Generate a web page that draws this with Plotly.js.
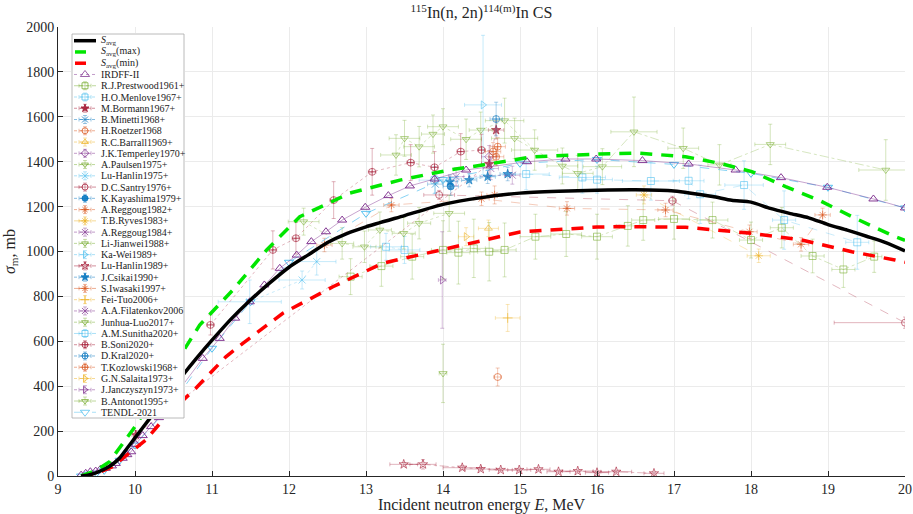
<!DOCTYPE html>
<html><head><meta charset="utf-8">
<script src="https://cdn.plot.ly/plotly-3.0.1.min.js"></script>
<style>html,body{margin:0;padding:0;background:#fff}#chart{width:913px;height:514px}</style>
</head><body><div id="chart"></div>
<script>
// ================= DATA =================
const savgE = [9.3,9.4,9.5,9.6,9.7,9.8,9.9,10.0,10.2,10.4,10.6,10.8,11.0,11.25,11.5,11.75,12.0,12.25,12.5,12.75,13.0,13.5,14.0,14.5,15.0,15.5,16.0,16.5,17.0,17.5,17.75,18.0,18.25,18.5,18.75,19.0,19.25,19.5,19.75,20.0];
const savgS = [0,5,15,30,50,80,125,170,260,350,440,525,605,700,784,860,930,985,1040,1080,1110,1160,1210,1240,1260,1268,1273,1275,1270,1245,1228,1220,1192,1170,1150,1120,1095,1068,1040,1003];
const smaxE = [9.3,9.5,9.67,9.84,10.0,10.3,10.66,10.84,11.27,11.71,12.14,12.79,13.44,14.08,14.51,15.16,16.03,16.55,17.15,17.59,18.01,18.45,18.88,19.31,19.87,20.0];
const smaxS = [0,25,64,146,220,380,576,672,828,1007,1155,1260,1318,1363,1385,1422,1434,1438,1422,1393,1356,1289,1229,1155,1066,1050];
const sminE = [9.3,9.5,9.7,9.9,10.14,10.4,10.79,11.18,11.4,11.92,12.57,13.22,14.08,15.0,16.0,16.29,17.15,18.01,18.66,19.31,19.87,20.0];
const sminS = [0,12,40,95,160,265,391,531,591,725,843,948,1015,1087,1109,1111,1108,1081,1051,999,962,952];

const irdffE = [9.3,9.36,9.42,9.49,9.55,9.62,9.7,9.75,9.84,9.9,9.95,10.01,10.1,10.21,10.31,10.5,10.88,11.1,11.3,11.49,11.68,11.88,12.1,12.29,12.48,12.69,12.99,13.29,13.57,13.89,14.3,15.09,15.59,15.99,16.59,17.19,17.8,18.39,18.99,19.59,20.0];
const irdffS = [4,12,19,22,30,34,45,56,79,95,108,141,180,220,260,350,524,613,703,776,851,925,984,1044,1088,1140,1197,1249,1292,1323,1363,1400,1412,1412,1405,1390,1363,1329,1286,1234,1194];
const tendlE = [9.3,9.4,9.5,9.6,9.8,10.0,10.5,11.0,11.5,12.0,13.0,14.0,15.0,16.0,17.0,18.0,19.0,20.0];
const tendlS = [0,8,13,25,70,138,330,569,776,952,1170,1320,1393,1410,1388,1348,1286,1194];

const prestwoodE = [12.8,13.2,13.6,14.0,14.2,14.4,14.6,14.8,15.2,15.6,16.0,16.4,16.6,17.0,17.5,18.0,18.4,18.8,19.2,19.6];
const prestwoodS = [888,935,977,1007,995,1014,999,1007,1066,1078,1066,1114,1140,1145,1140,1051,1106,980,920,977];
const prestwoodDE = [0.15,0.15,0.15,0.15,0.15,0.15,0.15,0.15,0.2,0.2,0.2,0.15,0.15,0.2,0.2,0.15,0.15,0.15,0.15,0.1];
const prestwoodDS = [80,90,100,130,140,130,130,120,100,100,100,90,90,90,80,80,90,75,80,70];
const menloveE = [13.26,13.5];
const menloveS = [1021,1007];
const menloveDE = [0.2,0.2];
const menloveDS = [60,60];
const bormannE = [10.01,14.6,14.69];
const bormannS = [183,1390,1541];
const bormannDE = [0.05,0.1,0.1];
const bormannDS = [20,60,40];
const minettiE = [13.9];
const minettiS = [1300];
const minettiDE = [0.1];
const minettiDS = [40];
const roetzerE = [14.71];
const roetzerS = [441];
const roetzerDE = [0.05];
const roetzerDS = [40];
const barrallE = [14.59];
const barrallS = [1103];
const barrallDE = [0.13];
const barrallDS = [37];
const temperleyE = [14.6];
const temperleyS = [1422];
const temperleyDE = [0.1];
const temperleyDS = [50];
const paulsenE = [14.0];
const paulsenS = [457];
const paulsenDE = [0.05];
const paulsenDS = [130];
const luhanlin75E = [11.49,12.17,12.36];
const luhanlin75S = [776,873,955];
const luhanlin75DE = [0.41,0.3,0.25];
const luhanlin75DS = [97,40,60];
const santryE = [13.95,16.98,20.0];
const santryS = [1252,1226,683];
const santryDE = [0.2,0.05,0.92];
const santryDS = [20,20,25];
const kayashimaE = [14.1];
const kayashimaS = [1290];
const kayashimaDE = [0.1];
const kayashimaDS = [40];
const reggoug82E = [14.67];
const reggoug82S = [1252];
const reggoug82DE = [0.1];
const reggoug82DS = [40];
const ryvesE = [16.61,18.1];
const ryvesS = [1252,981];
const ryvesDE = [0.1,0.15];
const ryvesDS = [40,30];
const reggoug84E = [14.62];
const reggoug84S = [1370];
const reggoug84DE = [0.1];
const reggoug84DS = [50];
const lijianweiE = [13.39,13.5,13.69,13.87,14.0,14.3,14.49,14.8,15.19];
const lijianweiS = [1430,1504,1467,1523,1556,1500,1541,1583,1452];
const lijianweiDE = [0.2,0.2,0.2,0.15,0.2,0.2,0.15,0.25,0.3];
const lijianweiDS = [90,80,90,85,80,90,80,100,90];
const kaweiE = [14.52];
const kaweiS = [1653];
const kaweiDE = [0.24];
const kaweiDS = [310];
const luhanlin89E = [13.49,13.74,14.25,14.49,14.75,14.99,15.24,15.5,15.75,16.0,16.25,16.74];
const luhanlin89S = [52,52,37,31,27,27,30,19,22,15,19,12];
const luhanlin89DE = [0.18,0.17,0.25,0.2,0.15,0.15,0.15,0.15,0.2,0.15,0.2,0.13];
const luhanlin89DS = [8,21,8,6,5,5,6,6,5,5,5,5];
const csikaiE = [14.09,14.34,14.58,14.84];
const csikaiS = [1311,1318,1333,1345];
const csikaiDE = [0.1,0.1,0.1,0.1];
const csikaiDS = [30,30,30,30];
const iwasakiE = [12.46,13.33,14.5,15.61,16.89,17.98,18.65,18.93];
const iwasakiS = [1029,1207,1235,1192,1185,1088,1032,1163];
const iwasakiDE = [0.1,0.1,0.1,0.1,0.1,0.1,0.1,0.1];
const iwasakiDS = [30,30,30,30,30,30,30,30];
const feituoE = [14.84];
const feituoS = [704];
const feituoDE = [0.16];
const feituoDS = [60];
const filatenkovE = [14.17,14.9];
const filatenkovS = [1333,1340];
const filatenkovDE = [0.1,0.1];
const filatenkovDS = [40,40];
const junhuaE = [12.19,12.69,12.98,13.18,13.49,13.69,14.08];
const junhuaS = [1133,1036,1021,1096,1081,1126,1170];
const junhuaDE = [0.2,0.15,0.15,0.15,0.15,0.15,0.2];
const junhuaDS = [60,70,70,80,70,70,80];
const sunithaE = [13.89,15.08,15.81,16.0,16.7,17.19,17.34,17.91,18.43,19.38];
const sunithaS = [1318,1345,1330,1320,1314,1315,1255,1296,1140,1041];
const sunithaDE = [0.2,0.3,0.3,0.2,0.37,0.2,0.2,0.25,0.15,0.15];
const sunithaDS = [60,70,70,60,85,80,130,108,130,120];
const soniE = [10.98,11.79,12.09,12.58,13.08,13.58,13.89,14.23,14.5];
const soniS = [673,1007,1059,1229,1355,1396,1375,1445,1452];
const soniDE = [0.05,0.05,0.05,0.05,0.05,0.05,0.05,0.05,0.05];
const soniDS = [45,85,70,82,104,80,70,80,70];
const kralE = [14.69];
const kralS = [1590];
const kralDE = [0.08];
const kralDS = [75];
const kozlowskiE = [14.65,14.69,14.71];
const kozlowskiS = [1445,1422,1467];
const kozlowskiDE = [0.1,0.1,0.1];
const kozlowskiDS = [40,40,40];
const salaitaE = [14.3];
const salaitaS = [1066];
const salaitaDE = [0.1];
const salaitaDS = [40];
const janczyszynE = [13.99];
const janczyszynS = [873];
const janczyszynDE = [0.05];
const janczyszynDS = [215];
const antonotE = [14.93,15.55,15.75,16.07,16.48,17.12,17.59,18.25,19.75];
const antonotS = [1504,1381,1348,1378,1533,1460,1386,1477,1363];
const antonotDE = [0.3,0.2,0.2,0.25,0.3,0.2,0.15,0.2,0.35];
const antonotDS = [90,80,80,80,155,90,90,90,135];

// ================= STYLE =================
const G=[119,172,48], LB=[77,190,238], DR=[162,20,47], B=[0,114,189], O=[217,83,25], Y=[237,177,32], P=[126,47,142];
const rgba=(c,a)=>`rgba(${c[0]},${c[1]},${c[2]},${a})`;
const FONT = 'Liberation Serif, Times New Roman, serif';

const series = [
 {name:'R.J.Prestwood1961+', E:prestwoodE,S:prestwoodS,dE:prestwoodDE,dS:prestwoodDS,c:G,sym:'square-open',dash:'dashdot'},
 {name:'H.O.Menlove1967+', E:menloveE,S:menloveS,dE:menloveDE,dS:menloveDS,c:LB,sym:'square-open',dash:'dot'},
 {name:'M.Bormann1967+', E:bormannE,S:bormannS,dE:bormannDE,dS:bormannDS,c:DR,sym:'star',dash:'dot'},
 {name:'B.Minetti1968+', E:minettiE,S:minettiS,dE:minettiDE,dS:minettiDS,c:B,sym:'x-thin-open',dash:'dot'},
 {name:'H.Roetzer1968', E:roetzerE,S:roetzerS,dE:roetzerDE,dS:roetzerDS,c:O,sym:'circle-open',dash:'dot'},
 {name:'R.C.Barrall1969+', E:barrallE,S:barrallS,dE:barrallDE,dS:barrallDS,c:Y,sym:'triangle-up-open',dash:'dot'},
 {name:'J.K.Temperley1970+', E:temperleyE,S:temperleyS,dE:temperleyDE,dS:temperleyDS,c:P,sym:'diamond-open',dash:'dot'},
 {name:'A.Paulsen1975+', E:paulsenE,S:paulsenS,dE:paulsenDE,dS:paulsenDS,c:G,sym:'triangle-down-open',dash:'dot'},
 {name:'Lu-Hanlin1975+', E:luhanlin75E,S:luhanlin75S,dE:luhanlin75DE,dS:luhanlin75DS,c:LB,sym:'x-thin-open',dash:'dot'},
 {name:'D.C.Santry1976+', E:santryE,S:santryS,dE:santryDE,dS:santryDS,c:DR,sym:'circle-open',dash:'dash'},
 {name:'K.Kayashima1979+', E:kayashimaE,S:kayashimaS,dE:kayashimaDE,dS:kayashimaDS,c:B,sym:'circle',dash:'dot'},
 {name:'A.Reggoug1982+', E:reggoug82E,S:reggoug82S,dE:reggoug82DE,dS:reggoug82DS,c:O,sym:'asterisk-open',dash:'dot'},
 {name:'T.B.Ryves1983+', E:ryvesE,S:ryvesS,dE:ryvesDE,dS:ryvesDS,c:Y,sym:'asterisk-open',dash:'dash'},
 {name:'A.Reggoug1984+', E:reggoug84E,S:reggoug84S,dE:reggoug84DE,dS:reggoug84DS,c:P,sym:'x-thin-open',dash:'dot'},
 {name:'Li-Jianwei1988+', E:lijianweiE,S:lijianweiS,dE:lijianweiDE,dS:lijianweiDS,c:G,sym:'triangle-down-open',dash:'dot'},
 {name:'Ka-Wei1989+', E:kaweiE,S:kaweiS,dE:kaweiDE,dS:kaweiDS,c:LB,sym:'triangle-right-open',dash:'dot'},
 {name:'Lu-Hanlin1989+', E:luhanlin89E,S:luhanlin89S,dE:luhanlin89DE,dS:luhanlin89DS,c:DR,sym:'star-open',dash:'dashdot'},
 {name:'J.Csikai1990+', E:csikaiE,S:csikaiS,dE:csikaiDE,dS:csikaiDS,c:B,sym:'star',dash:'dot'},
 {name:'S.Iwasaki1997+', E:iwasakiE,S:iwasakiS,dE:iwasakiDE,dS:iwasakiDS,c:O,sym:'asterisk-open',dash:'dash'},
 {name:'Fei-Tuo2006+', E:feituoE,S:feituoS,dE:feituoDE,dS:feituoDS,c:Y,sym:'cross-thin-open',dash:'dot'},
 {name:'A.A.Filatenkov2006', E:filatenkovE,S:filatenkovS,dE:filatenkovDE,dS:filatenkovDS,c:P,sym:'x-thin-open',dash:'dot'},
 {name:'Junhua-Luo2017+', E:junhuaE,S:junhuaS,dE:junhuaDE,dS:junhuaDS,c:G,sym:'triangle-down-open',dash:'dot'},
 {name:'A.M.Sunitha2020+', E:sunithaE,S:sunithaS,dE:sunithaDE,dS:sunithaDS,c:LB,sym:'square-open',dash:'dash'},
 {name:'B.Soni2020+', E:soniE,S:soniS,dE:soniDE,dS:soniDS,c:DR,sym:'circle-cross-open',dash:'dot'},
 {name:'D.Kral2020+', E:kralE,S:kralS,dE:kralDE,dS:kralDS,c:B,sym:'circle-cross-open',dash:'dot'},
 {name:'T.Kozlowski1968+', E:kozlowskiE,S:kozlowskiS,dE:kozlowskiDE,dS:kozlowskiDS,c:O,sym:'circle-cross-open',dash:'dot'},
 {name:'G.N.Salaita1973+', E:salaitaE,S:salaitaS,dE:salaitaDE,dS:salaitaDS,c:Y,sym:'triangle-right-open',dash:'dot'},
 {name:'J.Janczyszyn1973+', E:janczyszynE,S:janczyszynS,dE:janczyszynDE,dS:janczyszynDS,c:P,sym:'triangle-right-open',dash:'dot'},
 {name:'B.Antonot1995+', E:antonotE,S:antonotS,dE:antonotDE,dS:antonotDS,c:G,sym:'triangle-down-open',dash:'dashdot'}
];

const traces = [];
series.forEach(s=>{
  traces.push({type:'scatter', mode:'lines+markers', x:s.E, y:s.S, xaxis:'x', yaxis:'y',
    line:{color:rgba(s.c,0.38), width:0.8, dash:s.dash},
    marker:{symbol:s.sym, size:7, color:rgba(s.c,0.65), line:{color:rgba(s.c,0.65), width:0.9}},
    error_x:{type:'data', array:s.dE, visible:true, color:rgba(s.c,0.4), thickness:0.8, width:2},
    error_y:{type:'data', array:s.dS, visible:true, color:rgba(s.c,0.4), thickness:0.8, width:2},
    showlegend:false, hoverinfo:'skip'});
});
traces.push({type:'scatter', mode:'lines+markers', x:tendlE, y:tendlS, line:{color:rgba(LB,0.75), width:0.9, dash:'dash'},
  marker:{symbol:'triangle-down-open', size:8, color:rgba(LB,0.95), line:{width:1}}, showlegend:false, hoverinfo:'skip'});
traces.push({type:'scatter', mode:'lines+markers', x:irdffE, y:irdffS, line:{color:rgba(P,0.55), width:0.8},
  marker:{symbol:'triangle-up-open', size:8, color:rgba(P,0.95), line:{width:1}}, showlegend:false, hoverinfo:'skip'});
traces.push({type:'scatter', mode:'lines', x:sminE, y:sminS, line:{color:'#ff0000', width:3.5, dash:'12px,9px'}, showlegend:false, hoverinfo:'skip'});
traces.push({type:'scatter', mode:'lines', x:smaxE, y:smaxS, line:{color:'#00e600', width:3.5, dash:'12px,9px'}, showlegend:false, hoverinfo:'skip'});
traces.push({type:'scatter', mode:'lines', x:savgE, y:savgS, line:{color:'#000000', width:3.5, shape:'spline', smoothing:0.6}, showlegend:false, hoverinfo:'skip'});

// ================= CUSTOM LEGEND (helper axes in pixel-like units) =================
const legW = 112, legH = 384;
traces.push({type:'scatter', mode:'lines', xaxis:'x2', yaxis:'y2', x:[0,legW,legW,0,0], y:[0,0,legH,legH,0],
  fill:'toself', fillcolor:'#ffffff', line:{color:'#a8a8a8', width:0.8}, showlegend:false, hoverinfo:'skip'});
const annotations = [];
const rowY = i => 6.7 + 11.26*i;
const legendEntries = [
  {text:'<i>S</i><sub>avg</sub>', kind:'line', color:'#000000', x0:2, x1:24},
  {text:'<i>S</i><sub>avg</sub>(max)', kind:'line', color:'#00e600', x0:3, x1:14},
  {text:'<i>S</i><sub>avg</sub>(min)', kind:'line', color:'#ff0000', x0:3, x1:14},
  {text:'IRDFF-II', kind:'mark', c:P, sym:'triangle-up-open', dash:'dot', err:false},
];
series.forEach(s=>legendEntries.push({text:s.name, kind:'mark', c:s.c, sym:s.sym, dash:s.dash, err:true}));
legendEntries.push({text:'TENDL-2021', kind:'mark', c:LB, sym:'triangle-down-open', dash:'dash', err:false});

legendEntries.forEach((en,i)=>{
  const yy = rowY(i);
  if(en.kind==='line'){
    traces.push({type:'scatter', mode:'lines', xaxis:'x2', yaxis:'y2', x:[en.x0,en.x1], y:[yy,yy],
      line:{color:en.color, width:3.5}, showlegend:false, hoverinfo:'skip'});
  } else {
    traces.push({type:'scatter', mode:'lines', xaxis:'x2', yaxis:'y2', x:[2,24], y:[yy,yy],
      line:{color:rgba(en.c,0.6), width:0.8, dash:en.dash}, showlegend:false, hoverinfo:'skip'});
    const t = {type:'scatter', mode:'markers', xaxis:'x2', yaxis:'y2', x:[13], y:[yy],
      marker:{symbol:en.sym, size:en.err?6:8, color:rgba(en.c,0.85), line:{color:rgba(en.c,0.85), width:0.9}},
      showlegend:false, hoverinfo:'skip'};
    if(en.err){
      t.error_x = {type:'data', array:[6], visible:true, color:rgba(en.c,0.5), thickness:0.8, width:2};
      t.error_y = {type:'data', array:[4], visible:true, color:rgba(en.c,0.5), thickness:0.8, width:2};
    }
    traces.push(t);
  }
  annotations.push({xref:'x2', yref:'y2', x:27, y:yy, xanchor:'left', yanchor:'middle', showarrow:false,
    text:en.text, font:{family:FONT, size:10, color:'#222'}});
});

const layout = {
  width:913, height:514,
  margin:{l:58, r:8, t:27, b:38},
  paper_bgcolor:'#ffffff', plot_bgcolor:'#ffffff',
  showlegend:false,
  font:{family:FONT, color:'#262626'},
  title:{text:'<sup>115</sup>In(n, 2n)<sup>114(m)</sup>In CS', font:{family:FONT, size:16, color:'#262626'},
         xref:'paper', x:0.5, xanchor:'center', yref:'container', y:0.975, yanchor:'middle'},
  xaxis:{range:[9,20], dtick:1, tick0:9, ticks:'inside', ticklen:5, tickcolor:'#262626', showline:true, linecolor:'#262626', linewidth:1,
         gridcolor:'#ebebeb', gridwidth:1, zeroline:false, tickfont:{family:FONT, size:14, color:'#262626'},
         title:{text:'Incident neutron energy <i>E</i>, MeV', font:{family:FONT, size:16, color:'#262626'}, standoff:2}},
  yaxis:{range:[0,2000], dtick:200, tick0:0, ticks:'inside', ticklen:5, tickcolor:'#262626', showline:true, linecolor:'#262626', linewidth:1,
         gridcolor:'#ebebeb', gridwidth:1, zeroline:false, tickfont:{family:FONT, size:14, color:'#262626'},
         title:{text:'<i>σ</i><sub>m</sub>, mb', font:{family:FONT, size:16, color:'#262626'}, standoff:6}},
  xaxis2:{domain:[(71-58)/847,(185-58)/847], range:[-1,legW+1], visible:false, fixedrange:true, anchor:'y2', showgrid:false, zeroline:false},
  yaxis2:{domain:[(476-419)/449,(476-33)/449], range:[legH+1,-1], visible:false, fixedrange:true, anchor:'x2', showgrid:false, zeroline:false},
  annotations: annotations
};
Plotly.newPlot('chart', traces, layout, {staticPlot:true, displayModeBar:false});
</script></body></html>
